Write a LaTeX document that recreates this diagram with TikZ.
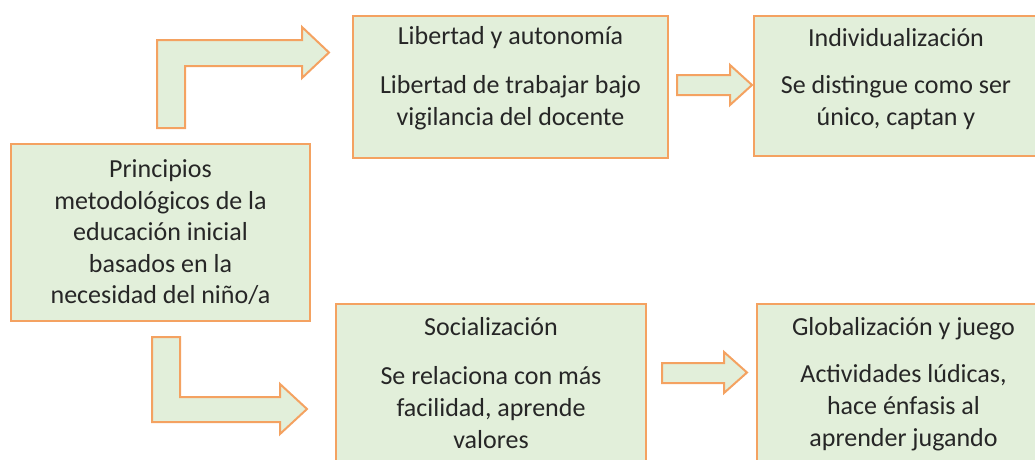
\documentclass[tikz,border=0pt]{standalone}
\usepackage{fontspec}
\setmainfont{Carlito}
\usepackage{xcolor}
\usetikzlibrary{calc}
\usetikzlibrary{positioning}
\definecolor{LightOrange}{HTML}{F4A261}
\definecolor{PaleGreen}{HTML}{E2EFDA}
\definecolor{DarkText}{HTML}{262626}
\begin{document}
\begin{tikzpicture}[x=1pt, y=-1pt,
  box/.style={draw=LightOrange, line width=2pt, fill=PaleGreen, inner sep=0pt,
    anchor=north west},
  txt/.style={align=center, inner sep=0pt, anchor=north, text=DarkText,
    font=\fontsize{26}{32}\selectfont},
  blockarrow/.style={draw=LightOrange, line width=2pt, fill=PaleGreen, line join=miter}]
  \useasboundingbox (0,0) rectangle (1035,459);

  % boxes
  \node[box, anchor=center, minimum width=299pt, minimum height=177pt,
    align=center, text=DarkText, font=\fontsize{26}{31.5}\selectfont]
    (Principios) at (160.5,232.5)
    {Principios\\metodológicos de la\\educación inicial\\basados en la\\necesidad del niño/a};
  \node[box, minimum width=315pt, minimum height=142pt] (Libertad) at (352,15) {};
  \node[box, minimum width=284pt, minimum height=140pt] (Individual) at (753,15) {};
  \node[box, minimum width=310pt, minimum height=180pt] (Social) at (335,303) {};
  \node[box, minimum width=293pt, minimum height=180pt] (Global) at (756,303) {};

  % texts
  \node[txt] (LibertadText) at ($(Libertad.north)+(0,11)$)
    {Libertad y autonomía\\[17pt]Libertad de trabajar bajo\\vigilancia del docente};
  \node[txt] (IndividualText) at ($(Individual.north)+(0,13)$)
    {Individualización\\[15pt]Se distingue como ser\\único, captan y};
  \node[txt] (SocialText) at ($(Social.north)+(0,14)$)
    {Socialización\\[17pt]Se relaciona con más\\facilidad, aprende\\valores};
  \node[txt] (GlobalText) at ($(Global.north)+(0,14)$)
    {Globalización y juego\\[15pt]Actividades lúdicas,\\hace énfasis al\\aprender jugando};

  % bent arrows
  \draw[blockarrow] (157,128) -- (157,40) -- (302,40) -- (302,27) -- (329,52.5)
    -- (302,78) -- (302,66) -- (185,66) -- (185,128) -- cycle;
  \draw[blockarrow] (152,337) -- (180,337) -- (180,397) -- (280,397) -- (280,384)
    -- (307,409) -- (280,434) -- (280,422) -- (152,422) -- cycle;

  % straight arrows
  \draw[blockarrow] (677,75) -- (730,75) -- (730,65) -- (752,85) -- (730,105)
    -- (730,95) -- (677,95) -- cycle;
  \draw[blockarrow] (662,363) -- (724,363) -- (724,352) -- (747,372.5) -- (724,393)
    -- (724,383) -- (662,383) -- cycle;
\end{tikzpicture}
\end{document}
